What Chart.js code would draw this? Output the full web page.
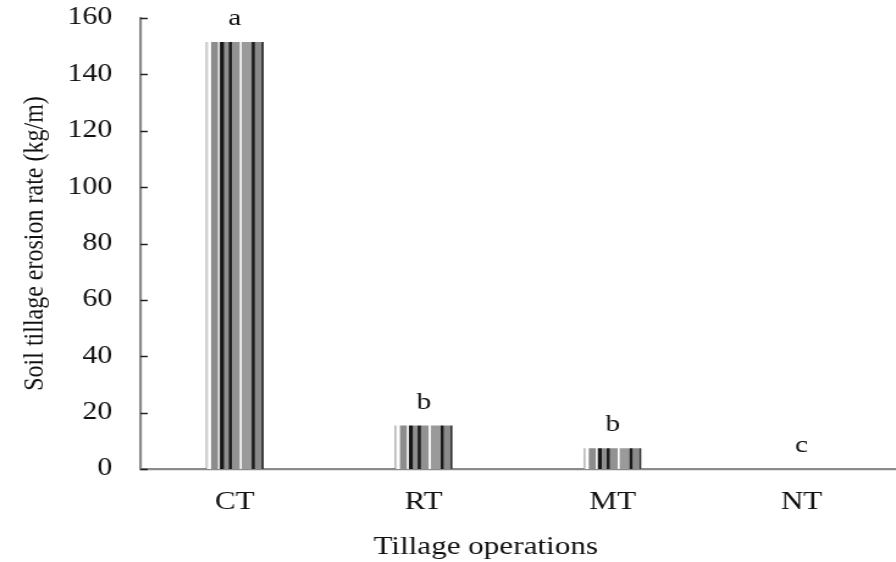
<!DOCTYPE html>
<html>
<head>
<meta charset="utf-8">
<script src="https://cdn.jsdelivr.net/npm/chart.js@4.4.1/dist/chart.umd.min.js"></script>
<style>
  html, body { margin: 0; padding: 0; background: #fff; overflow: hidden; }
  #page { width: 896px; height: 562px; overflow: hidden; }
  /* the figure is laid out in a narrower box and widened to the page */
  #wrap { width: 734px; height: 562px; transform: scaleX(1.2207); transform-origin: 0 0; }
</style>
</head>
<body>
<div id="page"><div id="wrap"><canvas id="c" width="734" height="562" style="width:734px;height:562px"></canvas></div></div>
<script>
// Tillage treatments and their measured erosion rates
const categories = ['CT', 'RT', 'MT', 'NT'];
const erosionRate = [151.5, 15.4, 7.4, 0];
const groupLetters = ['a', 'b', 'b', 'c'];
const yTicks = [0, 20, 40, 60, 80, 100, 120, 140, 160];
const xTitle = 'Tillage operations';

const serif = '"Liberation Serif", "Times New Roman", serif';
const BAR_FRACTION = 0.305;

// One bar's worth of vertical stripes: [colour, width]
const stripes = [
  ['#cfcfcf', 2], ['#ffffff', 3], ['#8c8c8c', 7], ['#f2f2f2', 2],
  ['#161616', 4], ['#8f8f8f', 5], ['#1c1c1c', 3], ['#929292', 8],
  ['#ffffff', 2], ['#9a9a9a', 10], ['#1a1a1a', 3], ['#8a8a8a', 7], ['#2a2a2a', 2]
];
const stripeCanvas = (() => {
  const w = stripes.reduce((s, x) => s + x[1], 0);
  const cv = document.createElement('canvas');
  cv.width = w; cv.height = 4;
  const g = cv.getContext('2d');
  let x = 0;
  stripes.forEach(([col, sw]) => { g.fillStyle = col; g.fillRect(x, 0, sw, 4); x += sw; });
  return cv;
})();

// Stripe fill aligned to the left edge of each bar
function barFill(ctx) {
  const chart = ctx.chart;
  const xs = chart.scales.x;
  if (!xs || !chart.chartArea || ctx.dataIndex === undefined) return '#888';
  const barW = xs.width / categories.length * BAR_FRACTION;
  const left = xs.getPixelForValue(ctx.dataIndex) - barW / 2;
  const pat = chart.ctx.createPattern(stripeCanvas, 'repeat');
  pat.setTransform(new DOMMatrix([barW / stripeCanvas.width, 0, 0, 1, left, 0]));
  return pat;
}

// Inward tick marks on the value axis, plus the category axis title
const axisExtras = {
  id: 'axisExtras',
  afterDraw(chart) {
    const ys = chart.scales.y;
    const xs = chart.scales.x;
    const ctx = chart.ctx;
    ctx.save();
    ctx.strokeStyle = '#222';
    ctx.lineWidth = 1.5;
    yTicks.forEach(v => {
      const py = Math.round(ys.getPixelForValue(v)) + 0.5;
      ctx.beginPath();
      ctx.moveTo(ys.right, py);
      ctx.lineTo(ys.right + 6, py);
      ctx.stroke();
    });
    // axis title sits a little left of the plot centre
    ctx.font = '25.5px ' + serif;
    ctx.fillStyle = '#111';
    ctx.textAlign = 'center';
    ctx.textBaseline = 'middle';
    ctx.fillText(xTitle, xs.left + xs.width * 0.457, xs.bottom - 14.4);
    ctx.restore();
  }
};

// Significance letters above each bar
const letterLabels = {
  id: 'letterLabels',
  afterDatasetsDraw(chart) {
    const ctx = chart.ctx;
    const meta = chart.getDatasetMeta(0);
    ctx.save();
    ctx.font = '24px ' + serif;
    ctx.fillStyle = '#111';
    ctx.textAlign = 'center';
    ctx.textBaseline = 'alphabetic';
    meta.data.forEach((bar, i) => {
      ctx.fillText(groupLetters[i], bar.x, bar.y - 17);
    });
    ctx.restore();
  }
};

new Chart(document.getElementById('c'), {
  type: 'bar',
  data: {
    labels: categories,
    datasets: [{
      data: erosionRate,
      backgroundColor: barFill,
      borderWidth: 0,
      categoryPercentage: 1,
      barPercentage: BAR_FRACTION
    }]
  },
  options: {
    responsive: false,
    animation: false,
    layout: { padding: { top: 18, right: 0, left: 0, bottom: 0 } },
    plugins: { legend: { display: false }, tooltip: { enabled: false } },
    scales: {
      x: {
        grid: { display: false, drawTicks: false },
        border: { display: true, color: '#8a8a8a', width: 2.2 },
        ticks: { color: '#111', font: { family: serif, size: 25.5 }, padding: 18, maxRotation: 0 },
        title: { display: false, text: xTitle },
        afterFit(s) { s.height = 93; s.paddingLeft = 0; s.paddingRight = 0; }
      },
      y: {
        min: 0, max: 160,
        afterBuildTicks(s) { s.ticks = yTicks.map(v => ({ value: v })); },
        grid: { display: false, drawTicks: false },
        border: { display: true, color: '#8a8a8a', width: 2.2 },
        ticks: { color: '#111', font: { family: serif, size: 24.5 }, padding: 23 },
        title: { display: true, text: 'Soil tillage erosion rate (kg/m)', color: '#111',
                 font: { family: serif, size: 24 }, padding: { top: 14, bottom: 0 } },
        afterFit(s) { s.width = 115; s.paddingTop = 0; s.paddingBottom = 0; }
      }
    }
  },
  plugins: [axisExtras, letterLabels]
});
</script>
</body>
</html>
